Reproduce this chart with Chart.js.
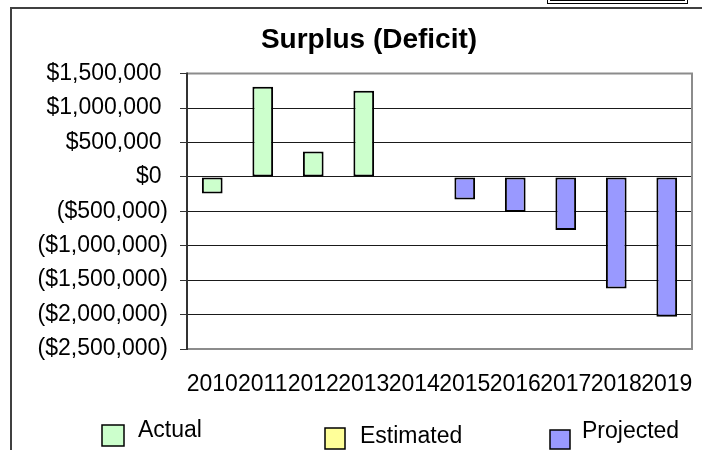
<!DOCTYPE html>
<html><head><meta charset="utf-8">
<script src="https://cdn.jsdelivr.net/npm/chart.js@4"></script>
<style>
html,body{margin:0;padding:0;background:#fff;}
#wrap{position:relative;width:702px;height:450px;overflow:hidden;background:#fff;}
#frame{position:absolute;left:10px;top:7px;width:760px;height:500px;border:2px solid #404040;pointer-events:none;}
#tag{position:absolute;left:547px;top:-20px;width:141px;height:24px;box-sizing:border-box;border:4px double #000;background:#fff;}
canvas{position:absolute;left:0;top:0;}
</style></head><body>
<div id="wrap"><canvas id="c" width="702" height="450"></canvas><div id="frame"></div><div id="tag"></div></div>
<script>
const categories = ['2010','2011','2012','2013','2014','2015','2016','2017','2018','2019'];
const actual     = [-240000, 1310000, 370000, 1250000, null, null, null, null, null, null];
const estimated  = [null, null, null, null, null, null, null, null, null, null];
const projected  = [null, null, null, null, null, -330000, -510000, -770000, -1620000, -2030000];
const seriesNames = ['Actual', 'Estimated', 'Projected'];
const yMin = -2500000, yMax = 1500000, yStep = 500000;

const FONT = '"Liberation Sans", Arial, Helvetica, sans-serif';

function money(v){
  const s = '$' + Math.abs(v).toLocaleString('en-US');
  return v < 0 ? '(' + s + ')' : s + ' ';
}

const legendLayout = [
  {bx:102, by:425, bw:22, bh:21, tx:138, ty:437},
  {bx:325, by:428, bw:20, bh:21, tx:360, ty:443},
  {bx:550, by:430, bw:20, bh:19, tx:582, ty:438}
];

const framePlugin = {
  id:'frame',
  afterLayout(chart){
    if (chart.titleBlock) { chart.titleBlock.left = 46; }
  },
  beforeDatasetsDraw(chart){
    const {ctx, chartArea:a} = chart;
    ctx.save();
    ctx.strokeStyle = '#8c8c8c';
    ctx.lineWidth = 2;
    ctx.beginPath();
    ctx.moveTo(a.left, a.top); ctx.lineTo(a.right, a.top); ctx.lineTo(a.right, a.bottom); ctx.lineTo(a.left, a.bottom);
    ctx.stroke();
    ctx.strokeStyle = '#333';
    ctx.beginPath(); ctx.moveTo(a.left, a.top - 1); ctx.lineTo(a.left, a.bottom + 1); ctx.stroke();
    ctx.restore();
  },
  afterDraw(chart){
    const ctx = chart.ctx;
    ctx.save();
    chart.data.datasets.forEach((ds, i) => {
      const L = legendLayout[i];
      ctx.fillStyle = ds.backgroundColor;
      ctx.fillRect(L.bx, L.by, L.bw, L.bh);
      ctx.strokeStyle = '#000';
      ctx.lineWidth = 1.5;
      ctx.strokeRect(L.bx, L.by, L.bw, L.bh);
      ctx.fillStyle = '#000';
      ctx.font = '23px ' + FONT;
      ctx.textBaseline = 'alphabetic';
      ctx.textAlign = 'left';
      ctx.fillText(ds.label, L.tx, L.ty);
    });
    ctx.restore();
  }
};

const common = {borderColor:'#000', borderWidth:2, borderSkipped:false, categoryPercentage:1, barPercentage:0.41};

new Chart(document.getElementById('c'), {
  type:'bar',
  data:{
    labels:categories,
    datasets:[
      Object.assign({label:seriesNames[0], data:actual, backgroundColor:'#ccffcc'}, common),
      Object.assign({label:seriesNames[1], data:estimated, backgroundColor:'#ffff99'}, common),
      Object.assign({label:seriesNames[2], data:projected, backgroundColor:'#9999ff'}, common)
    ]
  },
  options:{
    responsive:false,
    animation:false,
    devicePixelRatio:1,
    layout:{padding:{left:0, right:10, top:0, bottom:0}},
    plugins:{
      legend:{display:false},
      tooltip:{enabled:false},
      title:{display:true, text:'Surplus (Deficit)', color:'#000',
        font:{family:FONT, size:28, weight:'bold', lineHeight:1.2},
        padding:{top:23, bottom:17}}
    },
    scales:{
      x:{
        stacked:true,
        grid:{display:false, drawTicks:true, tickLength:22},
        border:{display:false},
        ticks:{color:'#000', padding:0, maxRotation:0, autoSkip:false, font:{family:FONT, size:23}},
        afterFit(s){ s.height = 101; }
      },
      y:{
        stacked:true,
        min:yMin, max:yMax,
        ticks:{stepSize:yStep, color:'#000', padding:12, font:{family:FONT, size:23}, callback:(v)=>money(v)},
        grid:{color:(c)=> (c.tick && (c.tick.value===yMax || c.tick.value===yMin)) ? '#8c8c8c' : '#1a1a1a', lineWidth:1, tickLength:7, tickColor:'#333'},
        border:{display:true, color:'#333', width:2},
        afterFit(s){ s.width = 187; }
      }
    }
  },
  plugins:[framePlugin]
});
</script>
</body></html>
